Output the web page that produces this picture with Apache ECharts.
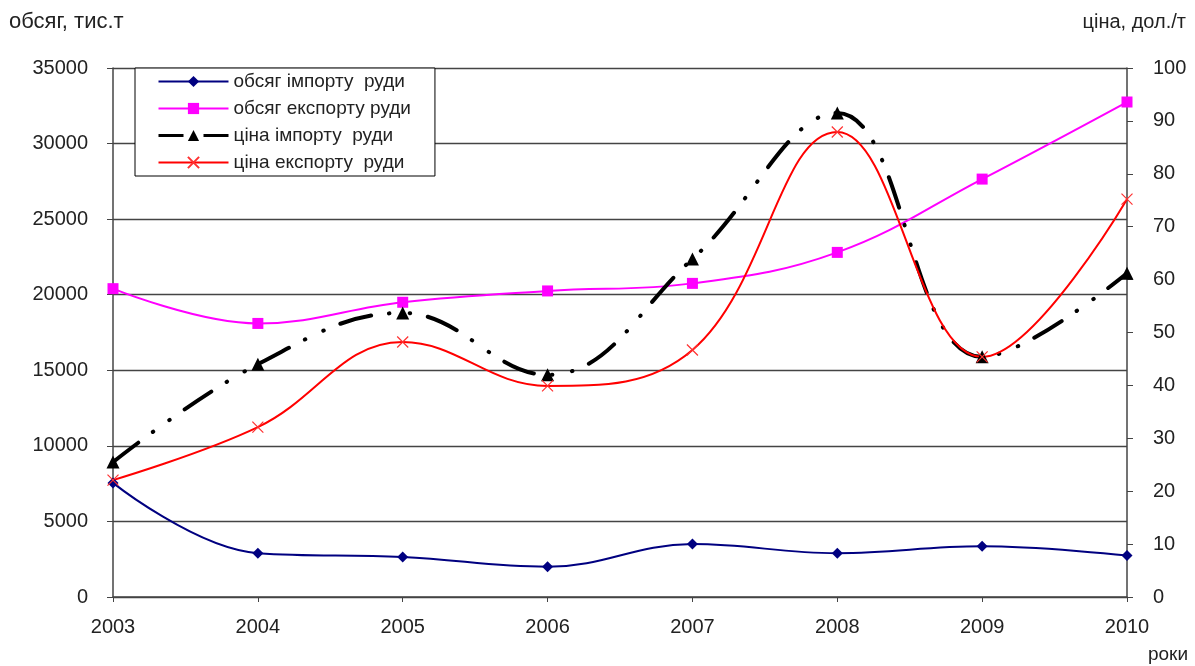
<!DOCTYPE html>
<html>
<head>
<meta charset="utf-8">
<script src="https://cdn.jsdelivr.net/npm/echarts@6/dist/echarts.min.js"></script>
<style>html,body{margin:0;padding:0;background:#fff;}#c{width:1195px;height:666px;}</style>
</head>
<body>
<div id="c"></div>
<script>
const years = ['2003','2004','2005','2006','2007','2008','2009','2010'];
const importVolume = [7550, 2900, 2650, 2000, 3500, 2900, 3350, 2750];
const exportVolume = [20400, 18100, 19500, 20250, 20750, 22800, 27650, 32750];
const importPrice = [25.5, 44.0, 53.7, 42.0, 63.9, 91.5, 45.4, 61.2];
const exportPrice = [22.1, 32.1, 48.2, 39.9, 46.7, 87.9, 45.4, 75.2];
const seriesNames = ['обсяг імпорту  руди', 'обсяг експорту руди', 'ціна імпорту  руди', 'ціна експорту  руди'];

const FONT = '"Liberation Sans", Arial, sans-serif';
const chart = echarts.init(document.getElementById('c'), null, {renderer: 'canvas'});
chart.setOption({
  animation: false,
  backgroundColor: '#fff',
  textStyle: {fontFamily: FONT},
  grid: {left: 113, right: 68, top: 68, bottom: 69, containLabel: false},
  graphic: [
    {type: 'text', left: 9, top: 11, style: {text: 'обсяг, тис.т', font: '22px ' + FONT, fill: '#222'}},
    {type: 'text', right: 9, top: 12, style: {text: 'ціна, дол./т', font: '20px ' + FONT, fill: '#222'}},
    {type: 'text', right: 7, top: 645, style: {text: 'роки', font: '19px ' + FONT, fill: '#222'}}
  ],
  legend: {
    orient: 'vertical', left: 135, top: 68,
    backgroundColor: '#fff', borderColor: '#000', borderWidth: 1,
    padding: [4, 24, 4, 22],
    itemWidth: 70, itemHeight: 14, itemGap: 8,
    textStyle: {fontSize: 19, color: '#222', fontFamily: FONT},
    data: [
      {name: seriesNames[0]},
      {name: seriesNames[1]},
      {name: seriesNames[2], lineStyle: {type: [25, 20], width: 3, cap: 'butt'}},
      {name: seriesNames[3]}
    ]
  },
  xAxis: {
    type: 'category', data: years, boundaryGap: false,
    axisLine: {lineStyle: {color: '#444', width: 1.5}},
    axisTick: {show: true, length: 5, inside: false, lineStyle: {color: '#444'}},
    axisLabel: {fontSize: 20, color: '#222', margin: 20, fontFamily: FONT}
  },
  yAxis: [
    {
      type: 'value', min: 0, max: 35000, interval: 5000,
      axisLine: {show: true, lineStyle: {color: '#444', width: 1.5}},
      axisTick: {show: true, length: 6, lineStyle: {color: '#444'}},
      axisLabel: {fontSize: 20, color: '#222', margin: 25, fontFamily: FONT, formatter: function (v) { return String(v); }},
      splitLine: {show: true, lineStyle: {color: '#444', width: 1.3}}
    },
    {
      type: 'value', min: 0, max: 100, interval: 10,
      axisLine: {show: true, lineStyle: {color: '#444', width: 1.5}},
      axisTick: {show: true, length: 6, lineStyle: {color: '#444'}},
      axisLabel: {fontSize: 20, color: '#222', margin: 26, fontFamily: FONT},
      splitLine: {show: false}
    }
  ],
  series: [
    {
      name: seriesNames[0], type: 'line', yAxisIndex: 0, data: importVolume, smooth: 0.4,
      symbol: 'diamond', symbolSize: 11, showAllSymbol: true,
      lineStyle: {color: '#000080', width: 2},
      itemStyle: {color: '#000080', borderWidth: 0}
    },
    {
      name: seriesNames[1], type: 'line', yAxisIndex: 0, data: exportVolume, smooth: 0.4,
      symbol: 'rect', symbolSize: 11,
      lineStyle: {color: '#ff00ff', width: 2},
      itemStyle: {color: '#ff00ff', borderWidth: 0}
    },
    {
      name: seriesNames[2], type: 'line', yAxisIndex: 1, data: importPrice, smooth: 0.4,
      symbol: 'triangle', symbolSize: 13,
      lineStyle: {color: '#000', width: 4, type: [32, 18, 0.5, 20, 0.5, 18], cap: 'round'},
      itemStyle: {color: '#000', borderWidth: 0}
    },
    {
      name: seriesNames[3], type: 'line', yAxisIndex: 1, data: exportPrice, smooth: 0.4,
      symbol: 'path://M0,0L10,10M10,0L0,10', symbolSize: 11,
      lineStyle: {color: '#ff0000', width: 2},
      itemStyle: {color: 'none', borderColor: '#ff3030', borderWidth: 1.2}
    }
  ]
});
</script>
</body>
</html>
